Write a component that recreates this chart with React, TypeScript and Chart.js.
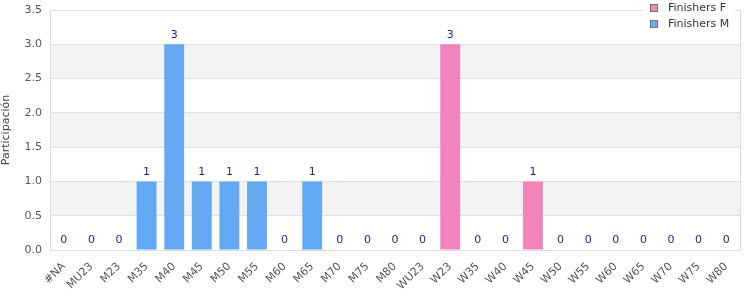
import React, { useEffect, useRef } from "react";
import { Chart, registerables } from "chart.js";

Chart.register(...registerables);

const categories = ["#NA", "MU23", "M23", "M35", "M40", "M45", "M50", "M55", "M60", "M65", "M70", "M75", "M80", "WU23", "W23", "W35", "W40", "W45", "W50", "W55", "W60", "W65", "W70", "W75", "W80"];
const finishersF = [null, null, null, null, null, null, null, null, null, null, null, null, null, 0, 3, 0, 0, 1, 0, 0, 0, 0, 0, 0, 0];
const finishersM = [0, 0, 0, 1, 3, 1, 1, 1, 0, 1, 0, 0, 0, null, null, null, null, null, null, null, null, null, null, null, null];
const yTicks = [0, 0.5, 1, 1.5, 2, 2.5, 3, 3.5];

const FONT = "'DejaVu Sans', sans-serif";
const colorF = "#F283BA";
const colorM = "#62A8F3";

const bandsPlugin = {
  id: "bands",
  beforeDraw(chart: any) {
    const { ctx, chartArea } = chart;
    const y = chart.scales.y;
    ctx.save();
    for (let i = 0; i < yTicks.length - 1; i++) {
      if (i % 2 === 1) {
        const top = y.getPixelForValue(yTicks[i + 1]);
        const bot = y.getPixelForValue(yTicks[i]);
        ctx.fillStyle = "#f3f3f3";
        ctx.fillRect(chartArea.left, top, chartArea.right - chartArea.left, bot - top);
      }
    }
    ctx.restore();
  },
  afterDraw(chart: any) {
    const { ctx, chartArea } = chart;
    ctx.save();
    ctx.strokeStyle = "#dcdcdc";
    ctx.lineWidth = 1;
    ctx.strokeRect(Math.round(chartArea.left) + 0.5, Math.round(chartArea.top) + 0.5, Math.round(chartArea.right - chartArea.left), Math.round(chartArea.bottom - chartArea.top));
    // value labels
    ctx.font = "11px " + FONT;
    ctx.fillStyle = "#22229a";
    ctx.textAlign = "center";
    ctx.textBaseline = "bottom";
    chart.data.datasets.forEach((ds: any, di: number) => {
      const meta = chart.getDatasetMeta(di);
      meta.data.forEach((el: any, i: number) => {
        const v = ds.data[i];
        if (v === null || v === undefined) return;
        ctx.fillText(String(v), el.x, el.y - 4);
      });
    });
    // legend
    ctx.fillStyle = "#ffffff";
    ctx.fillRect(643, 0, 92, 34);
    const items = [
      { label: "Finishers F", color: colorF },
      { label: "Finishers M", color: colorM },
    ];
    items.forEach((it, k) => {
      const yy = 5 + k * 15.5;
      ctx.fillStyle = it.color;
      ctx.fillRect(651, yy, 7, 7);
      ctx.strokeStyle = "#777";
      ctx.lineWidth = 1;
      ctx.strokeRect(650.5, Math.round(yy) - 0.5, 7, 7);
      ctx.fillStyle = "#333";
      ctx.font = "11px " + FONT;
      ctx.textAlign = "left";
      ctx.textBaseline = "middle";
      ctx.fillText(it.label, 668, yy + 3.5);
    });
    ctx.restore();
  },
};

export default function App() {
  const ref = useRef<HTMLCanvasElement>(null);
  useEffect(() => {
    document.body.style.margin = "0";
    const chart = new Chart(ref.current!, {
      type: "bar",
      data: {
        labels: categories,
        datasets: [
          { label: "Finishers F", data: finishersF as any, backgroundColor: colorF, borderWidth: 0, barPercentage: 0.72, categoryPercentage: 1 },
          { label: "Finishers M", data: finishersM as any, backgroundColor: colorM, borderWidth: 0, barPercentage: 0.72, categoryPercentage: 1 },
        ],
      },
      options: {
        animation: false,
        responsive: false,
        layout: { padding: { top: 10, right: 10, left: 0, bottom: 0 } },
        plugins: { legend: { display: false }, tooltip: { enabled: false } },
        scales: {
          x: {
            stacked: true,
            grid: { display: false },
            border: { display: false },
            ticks: {
              autoSkip: false,
              maxRotation: 45,
              minRotation: 45,
              color: "#555",
              font: { family: FONT, size: 11 },
              padding: 2,
            },
            afterFit(scale: any) {
              scale.height = 50;
              scale.paddingLeft = 0;
              scale.paddingRight = 0;
            },
          },
          y: {
            stacked: true,
            min: 0,
            max: 3.5,
            ticks: {
              stepSize: 0.5,
              color: "#555",
              font: { family: FONT, size: 11 },
              padding: 8,
              callback: (v: any) => Number(v).toFixed(1),
            },
            grid: { color: "#e0e0e0", drawTicks: false },
            border: { display: false },
            title: { display: true, text: "Participación", color: "#444", font: { family: FONT, size: 11 }, padding: 0 },
            afterFit(scale: any) {
              scale.width = 50;
              scale.paddingTop = 0;
              scale.paddingBottom = 0;
            },
          },
        },
      },
      plugins: [bandsPlugin],
    });
    return () => chart.destroy();
  }, []);
  return (
    <div style={{ position: "fixed", left: 0, top: 0, width: 750, height: 300 }}>
      <canvas ref={ref} width={750} height={300} />
    </div>
  );
}
